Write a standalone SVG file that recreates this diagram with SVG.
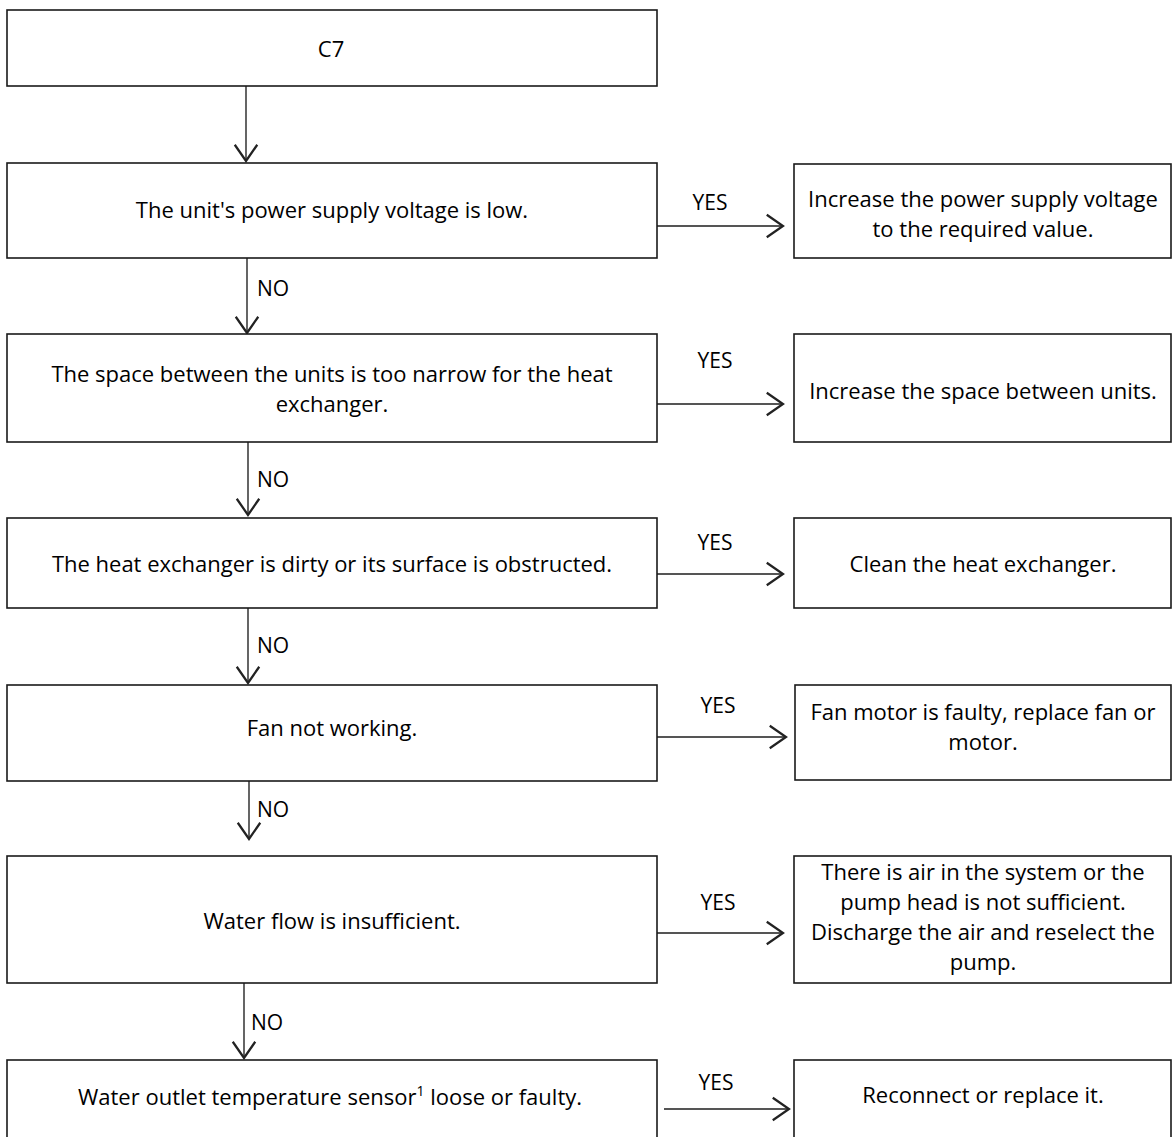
<svg xmlns="http://www.w3.org/2000/svg" width="1173" height="1137" viewBox="0 0 1173 1137">
<defs>
<style>
.box{fill:#fff;stroke:#1a1a1a;stroke-width:1.6}
.t{font-family:"Open Sans","Noto Sans",sans-serif;font-size:22px;fill:#000;text-anchor:middle}
.lbl{font-family:"Open Sans","Noto Sans",sans-serif;font-size:21px;fill:#000}
.c{fill:none;stroke:#555;stroke-width:1.8}
</style>
<marker id="ah" markerUnits="userSpaceOnUse" markerWidth="30" markerHeight="30" viewBox="-16 -12 20 24" refX="0" refY="0" orient="auto">
<path d="M -13 -9 L 0 0 L -13 9" fill="none" stroke="#222" stroke-width="1.8"/>
</marker>
</defs>
<rect width="1173" height="1137" fill="#fff"/>

<g id="connectors">
<line class="c" x1="246" y1="86" x2="246" y2="161" marker-end="url(#ah)"/>
<line class="c" x1="247" y1="258" x2="247" y2="333" marker-end="url(#ah)"/>
<line class="c" x1="248" y1="442" x2="248" y2="515" marker-end="url(#ah)"/>
<line class="c" x1="248" y1="608" x2="248" y2="683" marker-end="url(#ah)"/>
<line class="c" x1="249" y1="781" x2="249" y2="839" marker-end="url(#ah)"/>
<line class="c" x1="244" y1="983" x2="244" y2="1058" marker-end="url(#ah)"/>
<line class="c" x1="657" y1="226" x2="783" y2="226" marker-end="url(#ah)"/>
<line class="c" x1="657" y1="404" x2="783" y2="404" marker-end="url(#ah)"/>
<line class="c" x1="657" y1="574" x2="783" y2="574" marker-end="url(#ah)"/>
<line class="c" x1="656" y1="737" x2="786" y2="737" marker-end="url(#ah)"/>
<line class="c" x1="657" y1="933" x2="783" y2="933" marker-end="url(#ah)"/>
<line class="c" x1="664" y1="1109" x2="789" y2="1109" marker-end="url(#ah)"/>
<text class="lbl" x="257" y="296">NO</text>
<text class="lbl" x="257" y="487">NO</text>
<text class="lbl" x="257" y="653">NO</text>
<text class="lbl" x="257" y="817">NO</text>
<text class="lbl" x="251" y="1030">NO</text>
<text class="lbl" x="710" y="210" text-anchor="middle">YES</text>
<text class="lbl" x="715" y="368" text-anchor="middle">YES</text>
<text class="lbl" x="715" y="550" text-anchor="middle">YES</text>
<text class="lbl" x="718" y="713" text-anchor="middle">YES</text>
<text class="lbl" x="718" y="910" text-anchor="middle">YES</text>
<text class="lbl" x="716" y="1090" text-anchor="middle">YES</text>
</g>

<g id="n-c7">
<rect class="box" x="7" y="10" width="650" height="76"/>
<text class="t" x="331" y="57">C7</text>
</g>

<g id="n-q1">
<rect class="box" x="7" y="163" width="650" height="95"/>
<text class="t" x="332" y="218">The unit's power supply voltage is low.</text>
</g>
<g id="n-a1">
<rect class="box" x="794" y="164" width="377" height="94"/>
<text class="t" x="983" y="207">Increase the power supply voltage</text>
<text class="t" x="983" y="237">to the required value.</text>
</g>

<g id="n-q2">
<rect class="box" x="7" y="334" width="650" height="108"/>
<text class="t" x="332" y="382">The space between the units is too narrow for the heat</text>
<text class="t" x="332" y="412">exchanger.</text>
</g>
<g id="n-a2">
<rect class="box" x="794" y="334" width="377" height="108"/>
<text class="t" x="983" y="399">Increase the space between units.</text>
</g>

<g id="n-q3">
<rect class="box" x="7" y="518" width="650" height="90"/>
<text class="t" x="332" y="572">The heat exchanger is dirty or its surface is obstructed.</text>
</g>
<g id="n-a3">
<rect class="box" x="794" y="518" width="377" height="90"/>
<text class="t" x="983" y="572">Clean the heat exchanger.</text>
</g>

<g id="n-q4">
<rect class="box" x="7" y="685" width="650" height="96"/>
<text class="t" x="332" y="736">Fan not working.</text>
</g>
<g id="n-a4">
<rect class="box" x="795" y="685" width="376" height="95"/>
<text class="t" x="983" y="720">Fan motor is faulty, replace fan or</text>
<text class="t" x="983" y="750">motor.</text>
</g>

<g id="n-q5">
<rect class="box" x="7" y="856" width="650" height="127"/>
<text class="t" x="332" y="929">Water flow is insufficient.</text>
</g>
<g id="n-a5">
<rect class="box" x="794" y="856" width="377" height="127"/>
<text class="t" x="983" y="880">There is air in the system or the</text>
<text class="t" x="983" y="910">pump head is not sufficient.</text>
<text class="t" x="983" y="940">Discharge the air and reselect the</text>
<text class="t" x="983" y="970">pump.</text>
</g>

<g id="n-q6">
<rect class="box" x="7" y="1060" width="650" height="90"/>
<text class="t" x="330" y="1105">Water outlet temperature sensor<tspan font-size="14" dy="-9">1</tspan><tspan dy="9"> loose or faulty.</tspan></text>
</g>
<g id="n-a6">
<rect class="box" x="794" y="1060" width="377" height="90"/>
<text class="t" x="983" y="1103">Reconnect or replace it.</text>
</g>
</svg>
